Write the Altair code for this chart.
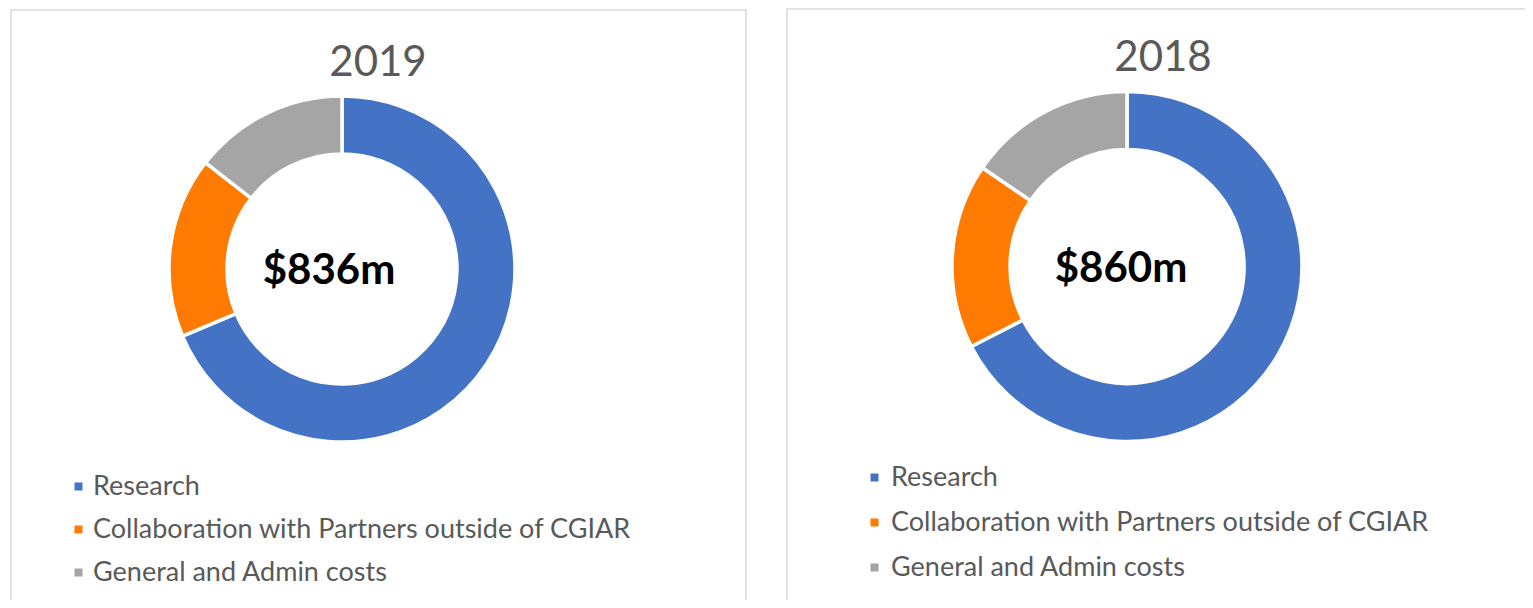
import altair as alt
import pandas as pd

categories = ["Research", "Collaboration with Partners outside of CGIAR", "General and Admin costs"]
values_2019 = [574, 141, 121]
values_2018 = [580, 147, 133]
years = ["2019", "2018"]
totals = [836, 860]
colors = ["#4472C4", "#FF7A00", "#A5A5A5"]

rows = []
for yr, vals in zip(years, [values_2019, values_2018]):
    for i, (c, v) in enumerate(zip(categories, vals)):
        rows.append({"year": yr, "category": c, "value": v, "rank": i})
df = pd.DataFrame(rows)

FONT = "Lato"
TXT = "#595959"
one = alt.Data(values=[{}])


def panel(year, total, cx, cy, r_out, r_in, title_xy, center_xy, legend_xy, row_pad, lab_off, border):
    color = alt.Color(
        "category:N",
        scale=alt.Scale(domain=categories, range=colors),
        legend=alt.Legend(
            title=None, orient="none", legendX=legend_xy[0], legendY=legend_xy[1],
            symbolType="square", symbolSize=64, symbolStrokeWidth=0,
            labelFontSize=27, labelFont=FONT, labelColor=TXT,
            rowPadding=row_pad, labelOffset=lab_off, labelLimit=900,
        ),
    )
    frame = alt.Chart(one).mark_rect(filled=False, stroke="#d9d9d9", strokeWidth=1.5).encode(
        x=alt.value(border[0]), y=alt.value(border[1]),
        x2=alt.value(border[2]), y2=alt.value(border[3]),
    )
    arc = alt.Chart(df).transform_filter(alt.datum.year == year).mark_arc(
        innerRadius=r_in, outerRadius=r_out, stroke="white", strokeWidth=3.5
    ).encode(
        theta=alt.Theta("value:Q", stack=True),
        color=color,
        order=alt.Order("rank:Q", sort="ascending"),
        x=alt.value(cx), y=alt.value(cy),
    )
    title = alt.Chart(one).mark_text(
        font=FONT, fontSize=42, color=TXT, align="center", baseline="middle"
    ).encode(text=alt.value(year), x=alt.value(title_xy[0]), y=alt.value(title_xy[1]))
    center = alt.Chart(one).mark_text(
        font=FONT, fontSize=42, fontWeight="bold", color="black", align="center", baseline="middle"
    ).encode(text=alt.value(f"${total}m"), x=alt.value(center_xy[0]), y=alt.value(center_xy[1]))
    return alt.layer(frame, arc, title, center)


left = panel("2019", totals[0], 329, 256, 173, 115, (365, 50), (316, 258), (52, 460), 15, 1, (-2, -3, 733, 700))
right = panel("2018", totals[1], 1114, 253.5, 175, 117, (1150, 45), (1108, 256), (848, 451), 17, 3, (774, -4, 1600, 700))

chart = alt.layer(left, right).resolve_scale(
    theta="independent", color="independent"
).resolve_legend(color="independent").properties(
    width=1507, height=582, padding=5, autosize="none"
).configure_view(stroke=None)

chart.save("out.html", embed_options={"renderer": "svg", "actions": False})
